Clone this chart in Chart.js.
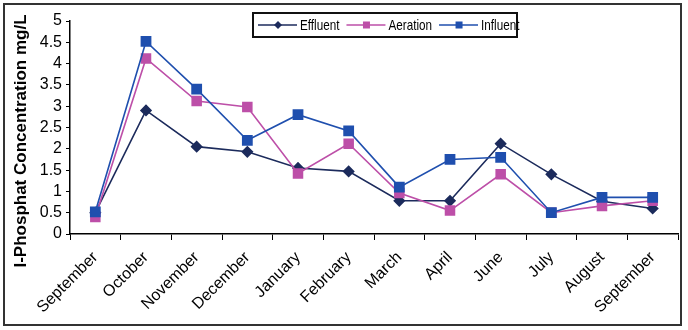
<!DOCTYPE html>
<html>
<head>
<meta charset="utf-8">
<script src="https://cdn.jsdelivr.net/npm/chart.js@4.4.0/dist/chart.umd.min.js"></script>
<style>
  html, body { margin: 0; padding: 0; background: #fff; }
  canvas { display: block; }
</style>
</head>
<body>
<canvas id="phosChart" width="688" height="330"></canvas>
<script>
// data
const months = ['September', 'October', 'November', 'December', 'January', 'February',
                'March', 'April', 'June', 'July', 'August', 'September'];
const effluent = [0.5, 2.9, 2.05, 1.93, 1.55, 1.47, 0.78, 0.78, 2.12, 1.4, 0.77, 0.6];
const aeration = [0.4, 4.12, 3.12, 2.98, 1.42, 2.12, 0.96, 0.55, 1.4, 0.5, 0.66, 0.78];
const influent = [0.52, 4.52, 3.4, 2.2, 2.8, 2.42, 1.1, 1.75, 1.8, 0.5, 0.86, 0.86];
const yMin = 0, yMax = 5, yStep = 0.5;
const yTitle = 'I-Phosphat Concentration mg/L';

const effColor = '#1c2b5c';
const aerColor = '#bd4fa8';
const infColor = '#1f4fae';

const font = 'Arial, "Liberation Sans", sans-serif';

// frame round the whole picture + the y title (placed like the excel one)
const framePlugin = {
  id: 'frame',
  afterDraw(chart) {
    const c = chart.ctx;
    c.save();
    c.strokeStyle = '#333';
    c.lineWidth = 2;
    c.strokeRect(4, 4, 677, 321);
    c.translate(21, 141);
    c.rotate(-Math.PI / 2);
    c.font = 'bold 17px ' + font;
    c.fillStyle = '#000';
    c.textAlign = 'center';
    c.textBaseline = 'middle';
    c.fillText(yTitle, 0, 0);
    c.restore();
  }
};

// excel-like legend box: line with marker, then name (narrow text)
const legendPlugin = {
  id: 'boxLegend',
  afterDraw(chart) {
    const c = chart.ctx;
    const x0 = 253, y0 = 13, w = 264, h = 24;
    c.save();
    c.fillStyle = '#fff';
    c.fillRect(x0, y0, w, h);
    c.strokeStyle = '#111';
    c.lineWidth = 2;
    c.strokeRect(x0, y0, w, h);
    c.font = '15px ' + font;
    c.textBaseline = 'middle';
    let x = x0 + 5;
    const cy = y0 + h / 2;
    chart.data.datasets.forEach(ds => {
      c.strokeStyle = ds.borderColor;
      c.lineWidth = 1.5;
      c.beginPath();
      c.moveTo(x, cy);
      c.lineTo(x + 39, cy);
      c.stroke();
      c.fillStyle = ds.backgroundColor;
      const mx = x + 20;
      if (ds.pointStyle === 'rectRot') {
        c.beginPath();
        c.moveTo(mx, cy - 4);
        c.lineTo(mx + 4, cy);
        c.lineTo(mx, cy + 4);
        c.lineTo(mx - 4, cy);
        c.closePath();
        c.fill();
      } else {
        c.fillRect(mx - 3.5, cy - 3.5, 7, 7);
      }
      c.fillStyle = '#000';
      const tw = c.measureText(ds.label).width * 0.78;
      c.fillText(ds.label, x + 42, cy + 1, tw);
      x += 42 + tw + 7;
    });
    c.restore();
  }
};

new Chart(document.getElementById('phosChart'), {
  type: 'line',
  data: {
    labels: months,
    datasets: [
      { label: 'Effluent', data: effluent, borderColor: effColor, backgroundColor: effColor,
        pointStyle: 'rectRot', pointRadius: 5, borderWidth: 1.6, order: 3 },
      { label: 'Aeration', data: aeration, borderColor: aerColor, backgroundColor: aerColor,
        pointStyle: 'rect', pointRadius: 6.3, borderWidth: 1.6, order: 2 },
      { label: 'Influent', data: influent, borderColor: infColor, backgroundColor: infColor,
        pointStyle: 'rect', pointRadius: 6.5, borderWidth: 1.6, order: 1 }
    ]
  },
  options: {
    responsive: false,
    animation: false,
    layout: { padding: { left: 8, right: 10, top: 21, bottom: 0 } },
    plugins: { legend: { display: false }, tooltip: { enabled: false } },
    elements: { line: { tension: 0 }, point: { borderWidth: 0 } },
    scales: {
      x: {
        offset: true,
        grid: { display: true, drawOnChartArea: false, offset: true, color: '#000', tickLength: 6 },
        border: { color: '#000', width: 1.5 },
        ticks: { color: '#000', font: { family: font, size: 16 }, minRotation: 45, maxRotation: 45,
                 padding: 8, autoSkip: false },
        afterFit(scale) { scale.height = 96; }
      },
      y: {
        min: yMin,
        max: yMax,
        grid: { display: true, drawOnChartArea: false, color: '#000', tickLength: 4 },
        border: { color: '#000', width: 1.5 },
        ticks: { stepSize: yStep, color: '#000', font: { family: font, size: 16 }, padding: 4,
                 autoSkip: false, callback: v => String(v) },
        afterFit(scale) { scale.width = 62; }
      }
    }
  },
  plugins: [framePlugin, legendPlugin]
});
</script>
</body>
</html>
